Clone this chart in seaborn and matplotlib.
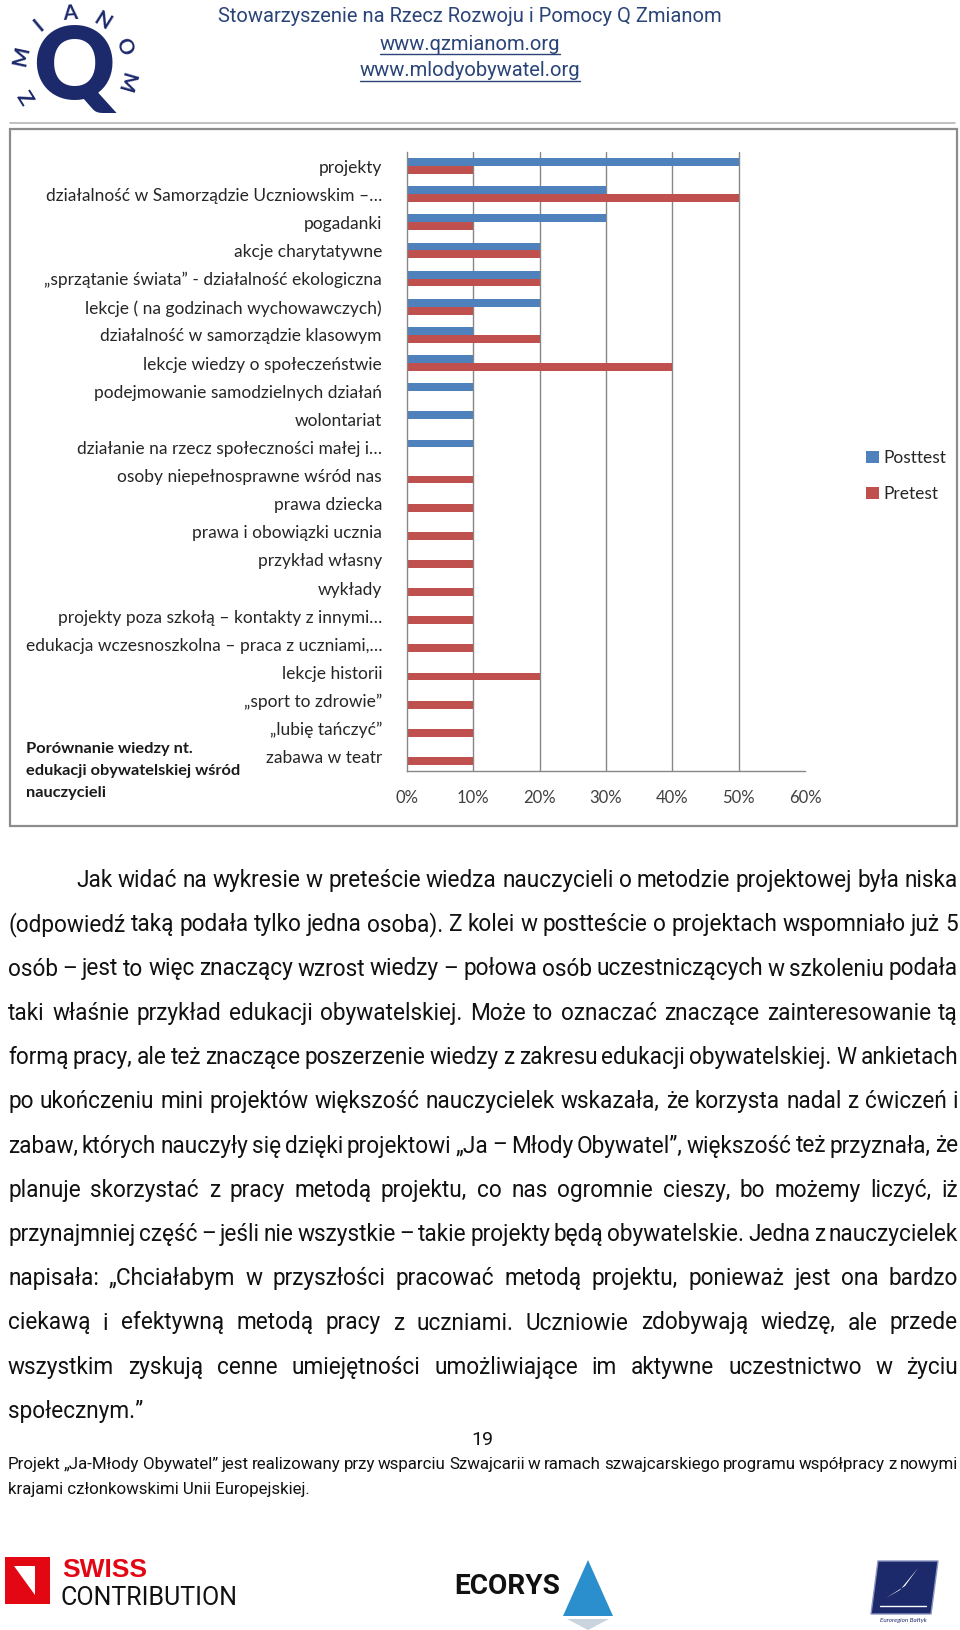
import math
import matplotlib
matplotlib.use('Agg')
import matplotlib.pyplot as plt
import matplotlib.patches as mpatches
from matplotlib.lines import Line2D
from matplotlib import font_manager
import seaborn as sns
import pandas as pd

W, H = 960, 1630

# chart data (share of answers, %)
categories = [
    'projekty',
    'działalność w Samorządzie Uczniowskim –…',
    'pogadanki',
    'akcje charytatywne',
    '„sprzątanie świata” - działalność ekologiczna',
    'lekcje ( na godzinach wychowawczych)',
    'działalność w samorządzie klasowym',
    'lekcje wiedzy o społeczeństwie',
    'podejmowanie samodzielnych działań',
    'wolontariat',
    'działanie na rzecz społeczności małej i…',
    'osoby niepełnosprawne wśród nas',
    'prawa dziecka',
    'prawa i obowiązki ucznia',
    'przykład własny',
    'wykłady',
    'projekty poza szkołą – kontakty z innymi…',
    'edukacja wczesnoszkolna – praca z uczniami,…',
    'lekcje historii',
    '„sport to zdrowie”',
    '„lubię tańczyć”',
    'zabawa w teatr',
]
posttest = [50, 30, 30, 20, 20, 20, 10, 10, 10, 10, 10, 0, 0, 0, 0, 0, 0, 0, 0, 0, 0, 0]
pretest = [10, 50, 10, 20, 20, 10, 20, 40, 0, 0, 0, 10, 10, 10, 10, 10, 10, 10, 20, 10, 10, 10]
series = ['Posttest', 'Pretest']
x_ticks = [0, 10, 20, 30, 40, 50, 60]
chart_title = ['Porównanie wiedzy nt.', 'edukacji obywatelskiej wśród', 'nauczycieli']

header_lines = ['Stowarzyszenie na Rzecz Rozwoju i Pomocy Q Zmianom',
                'www.qzmianom.org', 'www.mlodyobywatel.org']
body_lines = [
    'Jak widać na wykresie w preteście wiedza nauczycieli o metodzie projektowej była niska',
    '(odpowiedź taką podała tylko jedna osoba). Z kolei w postteście o projektach wspomniało już 5',
    'osób – jest to więc znaczący wzrost wiedzy – połowa osób uczestniczących w szkoleniu podała',
    'taki właśnie przykład edukacji obywatelskiej. Może to oznaczać znaczące zainteresowanie tą',
    'formą pracy, ale też znaczące poszerzenie wiedzy z zakresu edukacji obywatelskiej. W ankietach',
    'po ukończeniu mini projektów większość nauczycielek wskazała, że korzysta nadal z ćwiczeń i',
    'zabaw, których nauczyły się dzięki projektowi „Ja – Młody Obywatel”, większość też przyznała, że',
    'planuje skorzystać z pracy metodą projektu, co nas ogromnie cieszy, bo możemy liczyć, iż',
    'przynajmniej część – jeśli nie wszystkie – takie projekty będą obywatelskie. Jedna z nauczycielek',
    'napisała: „Chciałabym w przyszłości pracować metodą projektu,  ponieważ jest ona bardzo',
    'ciekawą i efektywną metodą pracy z uczniami. Uczniowie zdobywają wiedzę, ale przede',
    'wszystkim zyskują cenne umiejętności umożliwiające im aktywne uczestnictwo w życiu',
    'społecznym.”',
]
page_number = '19'
footer_lines = ['Projekt „Ja-Młody Obywatel” jest realizowany przy wsparciu Szwajcarii w ramach '
                'szwajcarskiego programu współpracy z nowymi',
                'krajami członkowskimi Unii Europejskiej.']

installed = {f.name for f in font_manager.fontManager.ttflist}
NARROW = 'Liberation Sans Narrow' if 'Liberation Sans Narrow' in installed else 'Roboto'
SANS = 'Lato' if 'Lato' in installed else 'DejaVu Sans'

sns.set_style('white')
plt.rcParams['font.family'] = [SANS, 'DejaVu Sans']

BLUE = '#4F81BD'
RED = '#C0504D'
GRID = '#878787'
NAVY = '#1c2a6b'
HEAD = '#2a4478'

fig = plt.figure(figsize=(W / 100, H / 100), dpi=100)
renderer = fig.canvas.get_renderer()


def fx(x):
    return x / W


def fy(y):
    return 1 - y / H


def put(x, y, s, **kw):
    return fig.text(fx(x), fy(y), s, **kw)


def width_of(s, **kw):
    t = fig.text(0, 0, s, **kw)
    w = t.get_window_extent(renderer).width
    t.remove()
    return w


# ---- header logo ----
put(74, 70, 'Q', fontsize=72, fontweight='heavy', color=NAVY, ha='center', va='center')
for ch, ang in [('Z', 212), ('M', 168), ('I', 130), ('A', 94), ('N', 58), ('O', 22), ('M', -16)]:
    r = 54
    put(74 + r * math.cos(math.radians(ang)), 67 - r * math.sin(math.radians(ang)), ch,
        fontsize=15, fontweight='bold', color=NAVY, ha='center', va='center', rotation=ang - 90)

for i, line in enumerate(header_lines):
    t = put(470, 17 + 27 * i, line, fontsize=14.5, family=NARROW, color=HEAD, ha='center',
            va='center')
    if i > 0:
        bb = t.get_window_extent(renderer)
        fig.add_artist(Line2D([bb.x0 / W, bb.x1 / W], [fy(17 + 27 * i + 10)] * 2,
                              color=HEAD, lw=1, transform=fig.transFigure))

fig.add_artist(Line2D([fx(10), fx(955)], [fy(123)] * 2, color='#b5b5b5', lw=1.2,
                      transform=fig.transFigure))

# ---- chart frame ----
fig.add_artist(mpatches.Rectangle((fx(10), fy(826)), (957 - 10) / W, (826 - 129) / H,
                                  transform=fig.transFigure, fill=False,
                                  edgecolor='#8c8c8c', lw=1.6))

ax = fig.add_axes([fx(407), fy(771), (805 - 407) / W, (771 - 152) / H])
df = pd.DataFrame({
    'kategoria': categories * 2,
    'wynik': posttest + pretest,
    'test': [series[0]] * len(categories) + [series[1]] * len(categories),
})
sns.barplot(data=df, x='wynik', y='kategoria', hue='test', order=categories,
            hue_order=series, palette=[BLUE, RED], saturation=1, width=0.56,
            orient='h', errorbar=None, linewidth=0, ax=ax)

handles, labels = ax.get_legend_handles_labels()
ax.get_legend().remove()

ax.set_xlim(0, 60)
ax.set_ylim(len(categories) - 0.5, -0.5)
ax.set_xticks(x_ticks)
ax.set_xticklabels([f'{v}%' for v in x_ticks], fontsize=12, color='#404040')
ax.set_xlabel('')
ax.set_ylabel('')
for v in x_ticks[1:-1]:
    ax.axvline(v, color=GRID, lw=1, zorder=0)
ax.set_yticks(range(len(categories)))
ax.set_yticklabels(categories, fontsize=12.5, color='#262626')
ax.set_yticks([i - 0.5 for i in range(len(categories) + 1)], minor=True)
ax.tick_params(axis='y', which='major', length=0, pad=18)
ax.tick_params(axis='y', which='minor', length=5, color=GRID, width=1, direction='out')
ax.tick_params(axis='x', length=5, color=GRID, width=1, direction='out', pad=9)
for s in ['top', 'right']:
    ax.spines[s].set_visible(False)
for s in ['left', 'bottom']:
    ax.spines[s].set_color(GRID)
    ax.spines[s].set_linewidth(1)
ax.set_facecolor('none')

fig.legend(handles, labels, loc='center left', bbox_to_anchor=(fx(850), fy(476)),
           frameon=False, fontsize=12.5, handlelength=0.75, handleheight=0.75,
           handletextpad=0.3, labelspacing=1.15, labelcolor='#262626')

for i, line in enumerate(chart_title):
    put(26, 749 + 22 * i, line, fontsize=11.8, fontweight='bold', color='#1a1a1a', va='center')

# ---- body text, justified ----
body_kw = dict(fontsize=16.3, family=NARROW, color='#111111', va='baseline')
space_w = width_of('a a', **body_kw) - width_of('aa', **body_kw)
x_right = 958
for i, line in enumerate(body_lines):
    y = 887 + 44.25 * i
    x0 = 76 if i == 0 else 8
    words = line.split()
    objs = [put(0, y, w, **body_kw) for w in words]
    widths = [o.get_window_extent(renderer).width for o in objs]
    if i == len(body_lines) - 1:
        gap = space_w
    else:
        gap = (x_right - x0 - sum(widths)) / (len(words) - 1)
    x = x0
    for o, w in zip(objs, widths):
        o.set_x(fx(x))
        x += w + gap

put(482, 1440, page_number, fontsize=14, family=NARROW, color='#111111', ha='center', va='center')

foot_kw = dict(fontsize=12.2, family=NARROW, color='#111111', va='baseline')
fwords = footer_lines[0].split()
fobjs = [put(0, 1469, w, **foot_kw) for w in fwords]
fwid = [o.get_window_extent(renderer).width for o in fobjs]
fgap = (958 - 8 - sum(fwid)) / (len(fwords) - 1)
xx = 8
for o, w in zip(fobjs, fwid):
    o.set_x(fx(xx))
    xx += w + fgap
put(8, 1494, footer_lines[1], **foot_kw)

# ---- logos at the bottom ----
fig.add_artist(mpatches.Rectangle((fx(5), fy(1604)), 45 / W, 47 / H, transform=fig.transFigure,
                                  color='#e30613', lw=0))
tri = [(5 + 45 * a, 1557 + 47 * b) for a, b in [(0.2, 0.2), (0.67, 0.2), (0.67, 0.8)]]
fig.add_artist(mpatches.Polygon([(fx(a), fy(b)) for a, b in tri], closed=True,
                                transform=fig.transFigure, color='white', lw=0))
put(62, 1570, 'SWISS', fontsize=19, fontweight='bold', family='Liberation Sans',
    color='#e30613', va='center')
put(61, 1598, 'CONTRIBUTION', fontsize=18, family=NARROW, color='#111111', va='center')

eco_kw = dict(fontweight='bold', family=NARROW, color='#111111', va='center')
eco_size = 27 * 106 / width_of('ECORYS', fontsize=27, **eco_kw)
put(454, 1586, 'ECORYS', fontsize=eco_size, **eco_kw)
fig.add_artist(mpatches.Polygon([(fx(563), fy(1616)), (fx(613), fy(1616)), (fx(588), fy(1560))],
                                closed=True, transform=fig.transFigure, color='#2a8fcc', lw=0))
fig.add_artist(mpatches.Polygon([(fx(567), fy(1619)), (fx(609), fy(1619)), (fx(588), fy(1630))],
                                closed=True, transform=fig.transFigure, color='#c9d4de', lw=0))

fig.add_artist(mpatches.Polygon([(fx(878), fy(1561)), (fx(938), fy(1561)),
                                 (fx(931), fy(1614)), (fx(871), fy(1614))],
                                closed=True, transform=fig.transFigure, facecolor=NAVY,
                                edgecolor='#8a92c0', lw=1))
bird = [(886, 1598), (900, 1590), (918, 1568), (905, 1586), (886, 1598)]
fig.add_artist(mpatches.Polygon([(fx(a), fy(b)) for a, b in bird], closed=True,
                                transform=fig.transFigure, color='white', lw=0))
fig.add_artist(Line2D([fx(880), fx(926)], [fy(1606)] * 2, color='white', lw=1,
                      transform=fig.transFigure))
put(903, 1620, 'Euroregion Bałtyk', fontsize=4.5, style='italic', color=NAVY, ha='center',
    va='center')

fig.savefig('out.png', dpi=100, facecolor='white')
